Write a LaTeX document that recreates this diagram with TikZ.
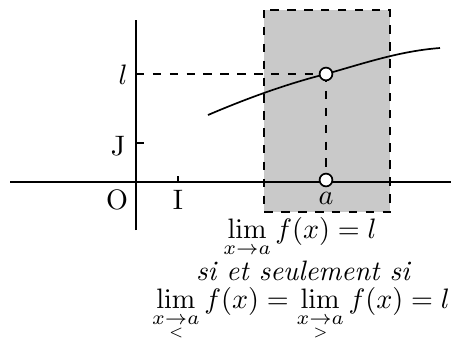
\documentclass[tikz,border=0pt]{standalone}
\usepackage{amsmath}
\usepackage{tikz}
\usetikzlibrary{positioning,calc}
\definecolor{zonecol}{HTML}{C9C9C9}

\begin{document}
\begin{tikzpicture}[x=0.0125cm,y=-0.0125cm,
  axis/.style={line width=0.6pt},
  guide/.style={dashed,line width=0.5pt},
  hole/.style={circle,draw,line width=0.6pt,fill=white,inner sep=0pt,minimum size=1.6mm},
  lbl/.style={font=\normalsize,inner sep=1pt}]
  \useasboundingbox (0,0) rectangle (451,349);
  % shaded zone around a
  \draw[guide,fill=zonecol] (264,10) rectangle (390,212);
  % axes
  \coordinate (xl) at (10,182);
  \coordinate (xr) at (451,182);
  \coordinate (yb) at (136,230);
  \coordinate (yt) at (136,20);
  \draw[axis] (xl)--(xr);
  \draw[axis] (yb)--(yt);
  \draw[axis] (178,176)--(178,182);
  \draw[axis] (136,143)--(144,143);
  \node[lbl] (o) at (117,200) {O};
  \node[lbl] (i) at (178,200) {I};
  \node[lbl] (j) at (118,146) {J};
  \node[lbl] (l) at (123,75) {$l$};
  % curve of f
  \coordinate (c0) at (208,115);
  \coordinate (c1) at (326,74);
  \coordinate (c2) at (440,48);
  \draw[line width=0.6pt] (c0) .. controls (250,97) and (290,83) .. (c1)
    .. controls (365,63) and (400,51) .. (c2);
  \coordinate (ly) at (136,74);
  \node[hole] (pa) at (326,180) {};
  \node[lbl] (a) at (326,198) {$a$};
  \draw[guide] (ly)--(c1);
  \draw[guide] (c1)--(pa.north);
  \node[hole] (pl) at (c1) {};
  % text
  \node[lbl,anchor=base] (lim) at (300,238) {$\displaystyle\lim_{x\to a} f(x) = l$};
  \node[lbl,anchor=base] (ssi) at (303,280) {\itshape si et seulement si};
  \node[lbl,anchor=base] (lims) at (301,308) {$\displaystyle\lim_{x\underset{<}{\to}a} f(x) = \lim_{x\underset{>}{\to}a} f(x) = l$};
\end{tikzpicture}
\end{document}
